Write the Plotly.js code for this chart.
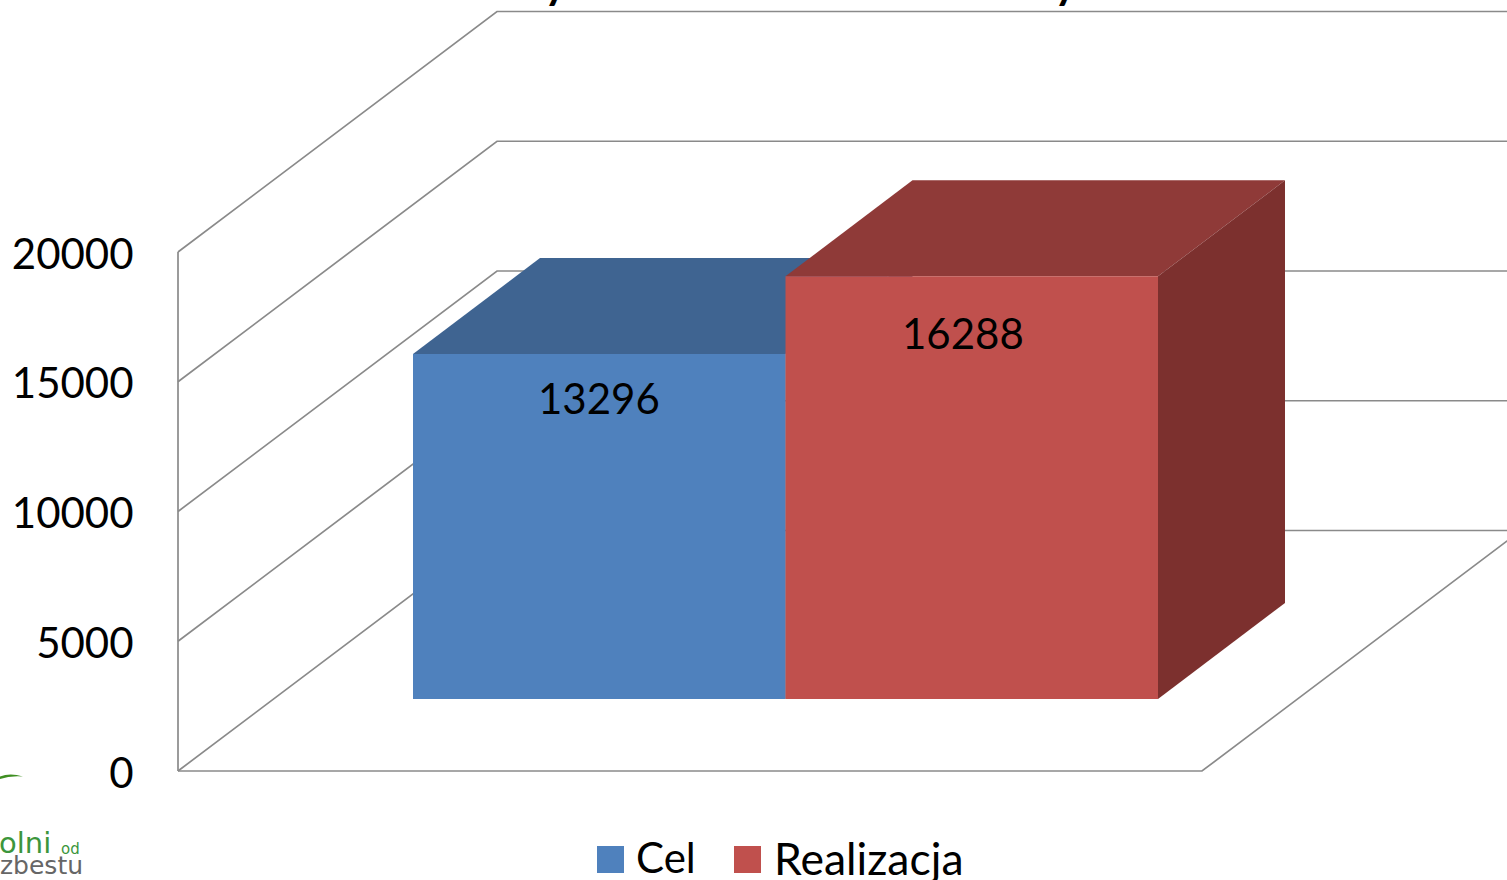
<!DOCTYPE html>
<html><head><meta charset="utf-8">
<script src="https://cdn.plot.ly/plotly-3.0.1.min.js"></script>
<style>html,body{margin:0;padding:0;background:#fff;overflow:hidden}#c{width:1507px;height:880px}</style>
</head><body><div id="c"></div>
<script>
var categories = ['Cel', 'Realizacja'];
var values = [13296, 16288];
var tickValues = [0, 5000, 10000, 15000, 20000];
var tickLabels = ['0', '5000', '10000', '15000', '20000'];
var frontColors = ['#4F81BD', '#C0504D'];
var topColors = ['#3F6491', '#8F3A38'];
var sideColors = ['#32507A', '#7C302E'];
var legendSizes = [42, 44.5];

var W = 1507, H = 880;
var originPx = 178, floorPx = 771, xScale = 1024, yScale = 0.02595;
var xOf = function (p) { return (p - originPx) / xScale; };
var yOf = function (p) { return (floorPx - p) / yScale; };

var wallDx = 319 / xScale, wallDy = 240.5 / yScale;
var barDx = 127 / xScale, barDy = 96 / yScale;
var barBase = yOf(699), barLeft = xOf(413), barWidth = 372.5 / xScale;
var labelX = [xOf(598.5), xOf(963)], labelY = [yOf(397.5), yOf(332.5)];

function poly(pts, fill) {
  var d = pts.map(function (q, i) { return (i ? 'L' : 'M') + q[0] + ',' + q[1]; }).join('') + 'Z';
  return {type: 'path', xref: 'x', yref: 'y', layer: 'below', path: d, fillcolor: fill, line: {width: 0}};
}
function gridLine(pts) {
  var d = pts.map(function (q, i) { return (i ? 'L' : 'M') + q[0] + ',' + q[1]; }).join('');
  return {type: 'path', xref: 'x', yref: 'y', layer: 'below', path: d, line: {color: '#8A8A8A', width: 1.7}};
}

var shapes = [];
var wallRight = xOf(1540);
tickValues.forEach(function (v) {
  shapes.push(gridLine([[0, v], [wallDx, v + wallDy], [wallRight, v + wallDy]]));
});
shapes.push(gridLine([[0, 0], [0, 20000]]));
shapes.push(gridLine([[0, 0], [1, 0], [1 + wallDx * 1.02, wallDy * 1.02]]));

values.forEach(function (v, i) {
  var l = barLeft + i * barWidth, r = l + barWidth, b = barBase, t = barBase + v;
  shapes.push(poly([[l, t], [r, t], [r + barDx, t + barDy], [l + barDx, t + barDy]], topColors[i]));
  shapes.push(poly([[r, b], [r, t], [r + barDx, t + barDy], [r + barDx, b + barDy]], sideColors[i]));
});

var swatchX = [597, 734], swatchText = [636, 774];
categories.forEach(function (c, i) {
  shapes.push({type: 'rect', xref: 'x', yref: 'y', x0: xOf(swatchX[i]), x1: xOf(swatchX[i] + 27),
    y0: yOf(873), y1: yOf(846), fillcolor: frontColors[i], line: {width: 0}});
});
shapes.push({type: 'path', xref: 'x', yref: 'y', path:
  'M' + xOf(0) + ',' + yOf(776.5) + 'Q' + xOf(10) + ',' + yOf(772.5) + ' ' + xOf(23) + ',' + yOf(776.5) +
  'Q' + xOf(10) + ',' + yOf(775.5) + ' ' + xOf(0) + ',' + yOf(779) + 'Z',
  fillcolor: '#3F8F22', line: {width: 0}});

var traces = categories.map(function (c, i) {
  return {type: 'bar', name: c, x: [barLeft + (i + 0.5) * barWidth], y: [values[i]], base: [barBase],
    width: [barWidth], marker: {color: frontColors[i], line: {width: 0}}, hoverinfo: 'name+y'};
});

var font = 'Lato, Carlito, sans-serif';
var annotations = values.map(function (v, i) {
  return {x: labelX[i], y: labelY[i], xref: 'x', yref: 'y', text: String(v), showarrow: false,
    font: {family: font, size: 42, color: '#000'}, xanchor: 'center', yanchor: 'middle'};
});
categories.forEach(function (c, i) {
  annotations.push({x: xOf(swatchText[i]), y: yOf(857), xref: 'x', yref: 'y', text: c, showarrow: false,
    font: {family: font, size: legendSizes[i], color: '#000'}, xanchor: 'left', yanchor: 'middle', xshift: -2});
});
[556, 1066].forEach(function (p) {
  annotations.push({x: xOf(p), y: yOf(0), yshift: 18, xref: 'x', yref: 'y', text: '<b>y</b>', showarrow: false,
    font: {family: font, size: 44, color: '#000'}, xanchor: 'center', yanchor: 'middle'});
});
annotations.push({x: xOf(0), y: yOf(843), xref: 'x', yref: 'y', text: 'olni', showarrow: false, xshift: -3,
  font: {family: 'DejaVu Sans', size: 29, color: '#3C963C'}, xanchor: 'left', yanchor: 'middle'});
annotations.push({x: xOf(59), y: yOf(849), xref: 'x', yref: 'y', text: 'od', showarrow: false,
  font: {family: 'DejaVu Sans', size: 15, color: '#3C963C'}, xanchor: 'left', yanchor: 'middle'});
annotations.push({x: xOf(0), y: yOf(865), xref: 'x', yref: 'y', text: 'zbestu', showarrow: false, xshift: -2,
  font: {family: 'DejaVu Sans', size: 25, color: '#666'}, xanchor: 'left', yanchor: 'middle'});

var layout = {
  width: W, height: H, margin: {l: 0, r: 0, t: 0, b: 0},
  paper_bgcolor: '#fff', plot_bgcolor: 'rgba(0,0,0,0)', showlegend: false, barmode: 'overlay',
  xaxis: {range: [xOf(0), xOf(W)], visible: false, fixedrange: true},
  yaxis: {range: [yOf(H), yOf(0)], anchor: 'free', position: originPx / W, side: 'left',
    tickmode: 'array', tickvals: tickValues, ticktext: tickLabels, ticks: 'outside', ticklen: 36,
    ticklabelshift: 2,
    tickcolor: 'rgba(0,0,0,0)', showgrid: false, zeroline: false, showline: false, fixedrange: true,
    tickfont: {family: font, size: 42, color: '#000'}},
  shapes: shapes, annotations: annotations
};
Plotly.newPlot('c', traces, layout, {displayModeBar: false, staticPlot: true});
</script></body></html>
